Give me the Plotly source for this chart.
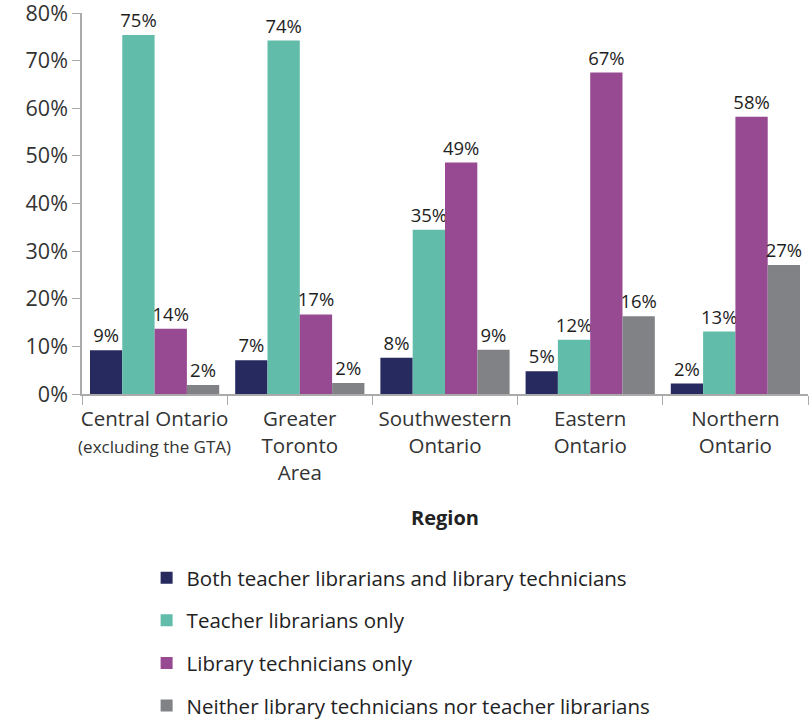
import plotly.graph_objects as go

regions = ["Central Ontario", "Greater Toronto Area", "Southwestern Ontario", "Eastern Ontario", "Northern Ontario"]
region_ticks = [
    "Central Ontario<br><span style='font-size:17px'>(excluding the GTA)</span>",
    "Greater<br>Toronto<br>Area",
    "Southwestern<br>Ontario",
    "Eastern<br>Ontario",
    "Northern<br>Ontario",
]
series_names = [
    "Both teacher librarians and library technicians",
    "Teacher librarians only",
    "Library technicians only",
    "Neither library technicians nor teacher librarians",
]
both_vals = [9.2, 7.1, 7.6, 4.8, 2.2]
teacher_vals = [75.4, 74.2, 34.5, 11.4, 13.1]
technician_vals = [13.7, 16.7, 48.6, 67.5, 58.2]
neither_vals = [1.9, 2.3, 9.3, 16.3, 27.1]
both_labels = ["9%", "7%", "8%", "5%", "2%"]
teacher_labels = ["75%", "74%", "35%", "12%", "13%"]
technician_labels = ["14%", "17%", "49%", "67%", "58%"]
neither_labels = ["2%", "2%", "9%", "16%", "27%"]
y_ticks = [0, 10, 20, 30, 40, 50, 60, 70, 80]
y_tick_labels = ["0%", "10%", "20%", "30%", "40%", "50%", "60%", "70%", "80%"]

colors = ["#272a5f", "#62bcaa", "#974a92", "#808285"]
FONT = "Open Sans"

fig = go.Figure()
for i, (name, vals, labs) in enumerate(zip(
        series_names,
        [both_vals, teacher_vals, technician_vals, neither_vals],
        [both_labels, teacher_labels, technician_labels, neither_labels])):
    fig.add_trace(go.Bar(
        x=regions, y=vals, name=name, text=labs,
        textposition="outside", constraintext="none", cliponaxis=False,
        textfont=dict(size=18.5, color="#1e1e1e", family=FONT),
        marker=dict(color=colors[i], line=dict(width=0)),
        legendgroup=f"g{i}",
        hoverinfo="skip",
    ))

fig.update_layout(
    width=811, height=719,
    margin=dict(l=82, r=3, t=13, b=325, autoexpand=False),
    paper_bgcolor="white", plot_bgcolor="white",
    barmode="group", bargap=0.11, bargroupgap=0,
    font=dict(family=FONT, color="#333333", size=20),
    showlegend=True,
    legend=dict(
        x=0.089, xanchor="left", y=-0.43, yanchor="top",
        orientation="v", tracegroupgap=13,
        font=dict(size=20.5, color="#222222", family=FONT),
        bgcolor="rgba(0,0,0,0)",
    ),
    xaxis=dict(
        tickmode="array", tickvals=regions, ticktext=region_ticks,
        tickangle=0, automargin=False,
        tickson="boundaries", ticks="outside", ticklen=9, tickcolor="#aaaaaa",
        ticklabelstandoff=6,
        showline=True, linecolor="#aaaaaa", linewidth=1.5,
        tickfont=dict(size=20.5, color="#333333", family=FONT),
        title=dict(text="<b>Region</b>", font=dict(size=20, color="#222222", family=FONT), standoff=26),
        showgrid=False,
    ),
    yaxis=dict(
        range=[0, 80], tickmode="array", tickvals=y_ticks, ticktext=y_tick_labels,
        automargin=False, ticklabeloverflow="allow",
        ticks="outside", ticklen=8, tickcolor="#aaaaaa",
        showline=True, linecolor="#aaaaaa", linewidth=1.5,
        tickfont=dict(size=21.5, color="#333333", family=FONT),
        showgrid=False, zeroline=False,
    ),
)

fig.write_html(
    "out.html",
    config={"displayModeBar": False},
    post_script="document.body.style.margin='0px';document.body.style.overflow='hidden';",
)
